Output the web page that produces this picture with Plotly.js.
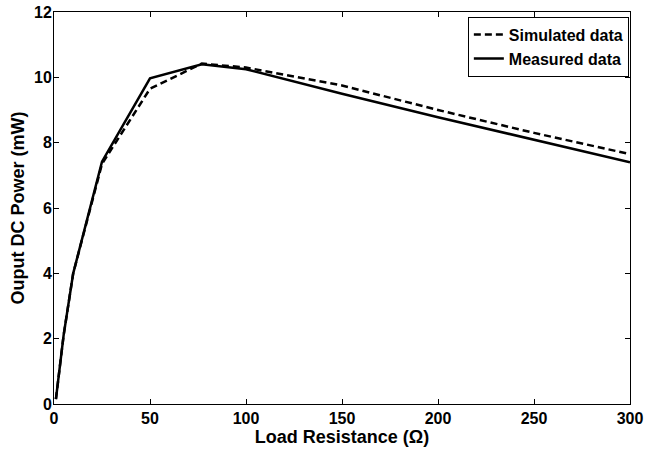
<!DOCTYPE html>
<html>
<head>
<meta charset="utf-8">
<script src="https://cdn.plot.ly/plotly-3.0.1.min.js"></script>
<style>html,body{margin:0;padding:0;background:#fff;}#chart{width:646px;height:449px;}</style>
</head>
<body>
<div id="chart"></div>
<script>
const resistance = [1, 5, 10, 25, 50, 77, 100, 150, 200, 250, 300];
const simulated = [0.15, 2.1, 4.0, 7.35, 9.65, 10.42, 10.3, 9.75, 9.0, 8.3, 7.65];
const measured = [0.15, 2.1, 4.0, 7.42, 9.97, 10.4, 10.25, 9.5, 8.78, 8.1, 7.4];
const xTicks = [0, 50, 100, 150, 200, 250, 300];
const yTicks = [0, 2, 4, 6, 8, 10, 12];

const font = {family: 'Liberation Sans, Arial, sans-serif', color: '#000'};
const traces = [
  {x: resistance, y: simulated, name: 'Simulated data', mode: 'lines',
   line: {color: '#000', width: 2.5, dash: '7px,4px'}},
  {x: resistance, y: measured, name: 'Measured data', mode: 'lines',
   line: {color: '#000', width: 2.5}}
];
const axisCommon = {
  showgrid: false, zeroline: false, showline: true, mirror: 'ticks',
  linecolor: '#000', linewidth: 1, ticks: 'inside', ticklen: 5, tickcolor: '#000',
  tickfont: Object.assign({size: 16, weight: 'bold'}, font)
};
const layout = {
  width: 646, height: 449,
  margin: {l: 54, r: 16, t: 12, b: 45},
  paper_bgcolor: '#fff', plot_bgcolor: '#fff',
  showlegend: true,
  legend: {x: 0.998, y: 0.988, xanchor: 'right', yanchor: 'top',
    bordercolor: '#000', borderwidth: 1, bgcolor: '#fff',
    font: Object.assign({size: 16, weight: 'bold'}, font),
    tracegroupgap: 0, itemwidth: 30},
  xaxis: Object.assign({}, axisCommon, {range: [0, 300], tickvals: xTicks,
    title: {text: 'Load Resistance (Ω)', standoff: 0, font: Object.assign({size: 18, weight: 'bold'}, font)}}),
  yaxis: Object.assign({}, axisCommon, {range: [0, 12], tickvals: yTicks, ticklabelstandoff: -2,
    title: {text: 'Ouput DC Power (mW)', standoff: 4, font: Object.assign({size: 18, weight: 'bold'}, font)}})
};
Plotly.newPlot('chart', traces, layout, {displayModeBar: false, staticPlot: true});
</script>
</body>
</html>
